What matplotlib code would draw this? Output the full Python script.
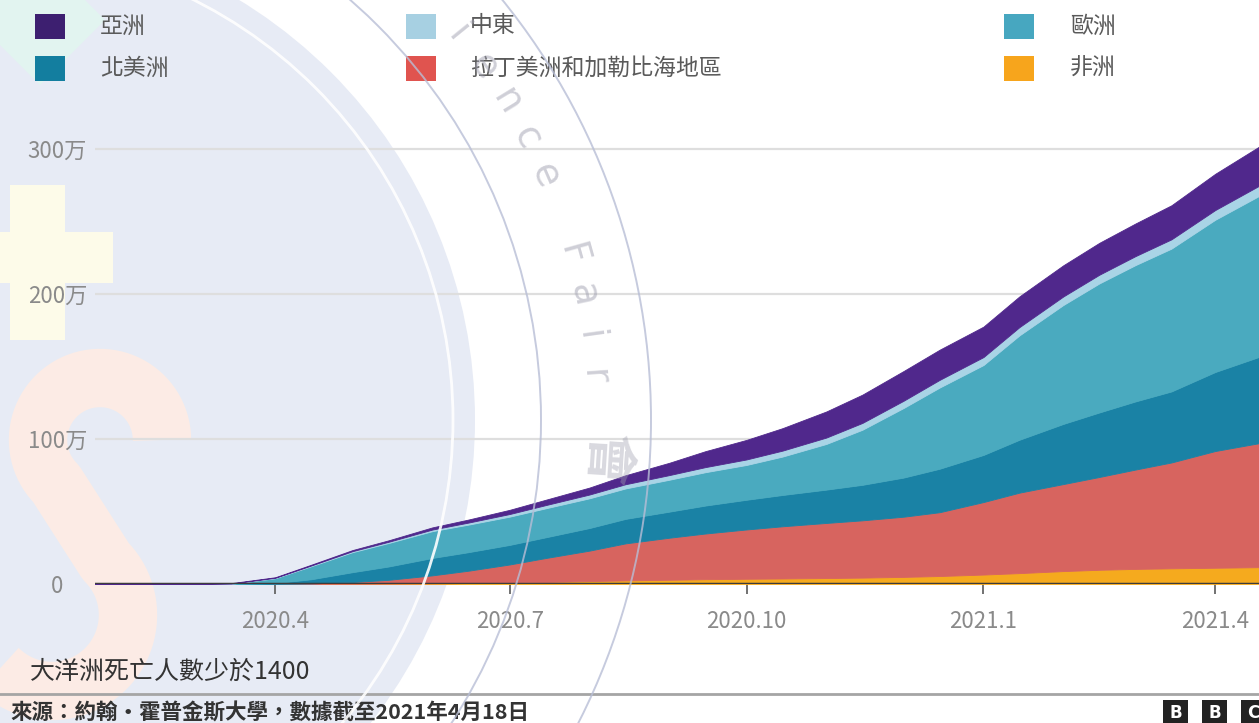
import numpy as np
import matplotlib.pyplot as plt
from matplotlib.patches import Circle, Rectangle, Polygon, PathPatch
from matplotlib.path import Path

plt.rcParams['font.family'] = ['Noto Sans CJK TC', 'DejaVu Sans']

# cumulative deaths by region, in units of 万 (10,000)
dates = np.array(['2020-01-22', '2020-03-01', '2020-03-15', '2020-04-01', '2020-04-15',
                  '2020-05-01', '2020-05-15', '2020-06-01', '2020-06-15', '2020-07-01',
                  '2020-07-15', '2020-08-01', '2020-08-15', '2020-09-01', '2020-09-15',
                  '2020-10-01', '2020-10-15', '2020-11-01', '2020-11-15', '2020-12-01',
                  '2020-12-15', '2021-01-01', '2021-01-15', '2021-02-01', '2021-02-15',
                  '2021-03-01', '2021-03-15', '2021-04-01', '2021-04-18'], dtype='datetime64[D]')

africa = [0, 0, 0, 0.02, 0.08, 0.16, 0.27, 0.45, 0.65, 0.95, 1.4, 2.0, 2.5, 2.9, 3.3,
          3.6, 3.8, 4.1, 4.4, 4.9, 5.5, 6.5, 7.5, 8.9, 9.8, 10.4, 10.8, 11.2, 11.6]
latin = [0, 0, 0, 0.05, 0.3, 1.2, 2.6, 5.5, 8.5, 12.5, 16.5, 21.0, 25.5, 29.0, 31.5,
         34.0, 36.0, 38.0, 39.5, 41.5, 44.0, 50.0, 55.5, 60.0, 64.0, 68.5, 73.0, 80.5, 85.5]
north_america = [0, 0, 0.01, 0.6, 2.9, 6.8, 9.2, 12.0, 12.8, 13.5, 14.3, 15.6, 16.9, 18.0, 19.3,
                 20.5, 21.6, 23.0, 24.5, 27.0, 30.0, 32.5, 36.5, 41.5, 44.5, 47.0, 49.0, 54.5, 59.5]
europe = [0, 0, 0.2, 3.3, 9.0, 13.8, 16.2, 18.5, 19.0, 19.5, 20.0, 20.5, 21.0, 22.0, 23.0,
          24.0, 26.5, 31.5, 38.0, 48.0, 56.0, 62.0, 72.0, 82.0, 89.0, 94.0, 98.5, 105.0, 111.0]
middle_east = [0, 0.005, 0.08, 0.3, 0.5, 0.7, 0.85, 1.1, 1.4, 1.8, 2.2, 2.6, 2.9, 3.2, 3.5,
               3.8, 4.1, 4.4, 4.7, 5.0, 5.3, 5.5, 5.7, 5.9, 6.0, 6.2, 6.4, 6.7, 7.0]
asia = [0, 0.29, 0.33, 0.4, 0.55, 0.75, 1.0, 1.5, 2.1, 2.9, 3.7, 4.8, 6.2, 8.5, 11.0,
        13.5, 15.5, 18.0, 19.5, 20.5, 20.8, 21.0, 21.2, 21.5, 22.0, 22.5, 23.5, 25.0, 27.0]

# stacking order, bottom to top
series = [africa, latin, north_america, europe, middle_east, asia]
area_colors = ['#f5aa1e', '#d7645f', '#1a82a5', '#4aaabf', '#a9d4e6', '#50288c']

x_ticks = np.array(['2020-04-01', '2020-07-01', '2020-10-01', '2021-01-01', '2021-04-01'],
                   dtype='datetime64[D]')
x_labels = ['2020.4', '2020.7', '2020.10', '2021.1', '2021.4']
y_ticks = [0, 100, 200, 300]
y_labels = ['0', '100万', '200万', '300万']

legend_items = [('亞洲', '#3d1f70'), ('北美洲', '#137e9f'),
                ('中東', '#a7d0e2'), ('拉丁美洲和加勒比海地區', '#e0544f'),
                ('歐洲', '#47a7c0'), ('非洲', '#f7a51c')]

W, H = 1259, 723
fig = plt.figure(figsize=(W / 100, H / 100), dpi=100)

# background layer in pixel coordinates
bg = fig.add_axes([0, 0, 1, 1], zorder=0)
bg.set_xlim(0, W)
bg.set_ylim(H, 0)
bg.axis('off')

ctr = (-17, 420)
bg.add_patch(Circle(ctr, 492, color='#e7ebf5', lw=0))
bg.add_patch(Polygon([(40, -45), (105, 20), (40, 85), (-25, 20)], closed=True,
                     color='#e2f4f0', lw=0))
bg.add_patch(Rectangle((10, 185), 55, 155, color='#fdfbe9', lw=0))
bg.add_patch(Rectangle((0, 232), 113, 51, color='#fdfbe9', lw=0))


def arc_pts(c, r, a0, a1, n=60):
    t = np.radians(np.linspace(a0, a1, n))
    return np.column_stack([c[0] + r * np.cos(t), c[1] + r * np.sin(t)])


# big "S" stroke: upper bowl, spine, lower bowl
s_pts = np.vstack([arc_pts((100, 440), 62, 0, -225),
                   arc_pts((52, 615), 76, -45, 180)])
bg.add_patch(PathPatch(Path(s_pts), fill=False, ec='#fcebe5', lw=42, capstyle='butt',
                       joinstyle='round'))

# legend
cols = [(35, 100), (35, 100), (406, 470), (406, 470), (1004, 1070), (1004, 1070)]
rows = [26, 68, 26, 68, 26, 68]
for (name, col), (sx, tx), ry in zip(legend_items, cols, rows):
    bg.add_patch(Rectangle((sx, ry - 12.5), 30, 25, color=col, lw=0))
    bg.text(tx, ry, name, fontsize=16.5, color='#5a5a5a', va='center', ha='left')

# footer
bg.text(30, 672, '大洋洲死亡人數少於1400', fontsize=18, color='#333333', va='center')
bg.plot([0, W], [694, 694], color='#a5a5a5', lw=2)
bg.text(10, 713, '來源：約翰・霍普金斯大學，數據截至2021年4月18日', fontsize=15.5,
        color='#333333', va='center', fontweight='bold')
for i, ch in enumerate('BBC'):
    bx = 1163 + 39 * i
    bg.add_patch(Rectangle((bx, 700), 25, 26, color='#222222', lw=0))
    bg.text(bx + 12.5, 713, ch, color='white', fontsize=12, fontweight='bold',
            ha='center', va='center', family='DejaVu Sans')

# main chart
left, top, base = 95, 120, 584
ax = fig.add_axes([left / W, (H - base) / H, 1 - left / W, (base - top) / H], zorder=1)
ax.patch.set_alpha(0)
ax.stackplot(dates, *series, colors=area_colors, lw=0.6, edgecolor='face')
ax.set_xlim(np.datetime64('2020-01-22'), np.datetime64('2021-04-18'))
ax.set_ylim(0, 320)
ax.set_yticks(y_ticks)
ax.set_yticklabels(y_labels)
ax.set_xticks(x_ticks)
ax.set_xticklabels(x_labels)
ax.yaxis.grid(True, color='#dedede', lw=1.6)
ax.set_axisbelow(True)
ax.axhline(0, color='#3c3c3c', lw=2.5, zorder=3)
for s in ax.spines.values():
    s.set_visible(False)
ax.tick_params(axis='x', length=7, width=1.3, color='#666666', pad=12,
               labelsize=16, labelcolor='#8a8a8a')
ax.tick_params(axis='y', length=0, pad=27, labelsize=16, labelcolor='#8a8a8a')
for lbl in ax.get_yticklabels():
    lbl.set_ha('center')

# watermark rings and lettering on top
ov = fig.add_axes([0, 0, 1, 1], zorder=5)
ov.set_xlim(0, W)
ov.set_ylim(H, 0)
ov.axis('off')
ov.add_patch(Circle(ctr, 470, fill=False, ec='white', lw=2, alpha=0.9))
ov.add_patch(Circle(ctr, 558, fill=False, ec='#b8bed6', lw=1.4, alpha=0.8))
ov.add_patch(Circle(ctr, 668, fill=False, ec='#b8bed6', lw=1.4, alpha=0.8))

word = 'Science Fair'
for i, ch in enumerate(word):
    th = -46.9 + 3.9 * i
    px = ctr[0] + 612 * np.cos(np.radians(th))
    py = ctr[1] + 612 * np.sin(np.radians(th))
    if ch == ' ' or py < 15:
        continue
    ov.text(px, py, ch, rotation=-90 - th, rotation_mode='anchor', ha='center',
            va='center', fontsize=27, color='#a0a0b0', alpha=0.5, family='DejaVu Sans')
th = 3.6
ov.text(ctr[0] + 625 * np.cos(np.radians(th)), ctr[1] + 625 * np.sin(np.radians(th)), '會',
        rotation=-90 - th, rotation_mode='anchor', ha='center', va='center',
        fontsize=38, color='#a0a0b0', alpha=0.4, fontweight='bold')

fig.savefig('out.png', dpi=100)
